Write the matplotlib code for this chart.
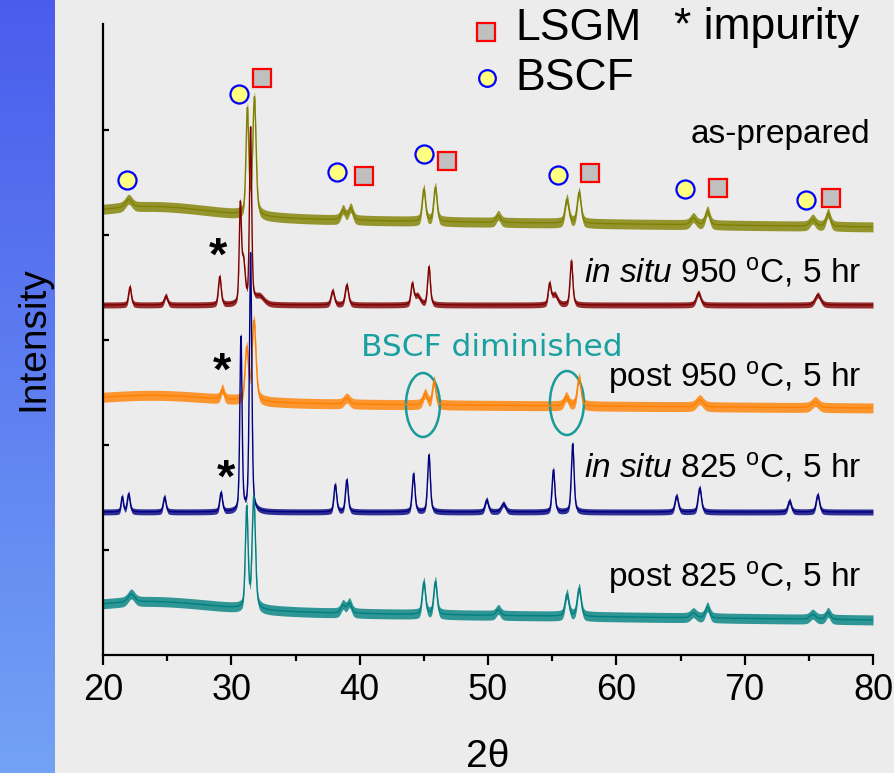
import numpy as np
import matplotlib.pyplot as plt
from matplotlib.patches import Ellipse

plt.rcParams['font.family'] = ['Liberation Sans', 'DejaVu Sans']
plt.rcParams['mathtext.fontset'] = 'custom'
plt.rcParams['mathtext.rm'] = 'Liberation Sans'
plt.rcParams['mathtext.it'] = 'Liberation Sans:italic'

# XRD patterns: peak position (2theta), height above background, fwhm
asprep_pos = [24.0, 22.0, 31.25, 31.8, 38.7, 39.3, 45.0, 45.9, 50.8, 56.15, 57.1, 66.0, 67.1, 75.3, 76.5]
asprep_h = [12, 8, 105, 117, 10, 12, 32, 34, 7, 24, 31, 7, 14, 7, 13]
asprep_w = [12, 0.6, 0.25, 0.3, 0.4, 0.4, 0.3, 0.3, 0.4, 0.35, 0.35, 0.5, 0.4, 0.5, 0.4]

is950_pos = [22.1, 24.9, 29.1, 30.7, 30.95, 31.5, 32.2, 37.9, 39.0, 44.1, 44.5, 45.4, 54.8, 55.2, 56.5, 66.4, 75.7]
is950_h = [18, 9, 28, 95, 40, 175, 8, 14, 20, 20, 9, 38, 20, 10, 44, 12, 10]
is950_w = [0.25, 0.3, 0.25, 0.2, 0.3, 0.2, 0.8, 0.3, 0.3, 0.25, 0.5, 0.25, 0.25, 0.5, 0.25, 0.4, 0.5]

p950_pos = [24.0, 29.3, 31.2, 31.77, 39.0, 45.1, 45.8, 56.1, 57.1, 66.5, 75.5]
p950_h = [8, 10, 52, 80, 6, 11, 24, 9, 28, 7, 6]
p950_w = [12, 0.3, 0.3, 0.35, 0.5, 0.4, 0.3, 0.4, 0.35, 0.6, 0.6]

is825_pos = [21.5, 22.0, 24.8, 29.2, 30.75, 31.5, 38.1, 39.0, 44.2, 45.4, 49.9, 51.2, 55.1, 56.6, 64.7, 66.5, 73.5, 75.7]
is825_h = [15, 18, 15, 19, 175, 258, 27, 32, 38, 57, 12, 8, 42, 68, 16, 24, 11, 17]
is825_w = [0.2, 0.25, 0.25, 0.25, 0.2, 0.22, 0.25, 0.25, 0.25, 0.25, 0.3, 0.4, 0.25, 0.25, 0.3, 0.3, 0.3, 0.3]

p825_pos = [24.0, 22.2, 31.2, 31.75, 38.7, 39.2, 45.0, 45.9, 50.8, 56.15, 57.1, 66.0, 67.1, 75.3, 76.5]
p825_h = [10, 8, 100, 112, 8, 10, 32, 33, 6, 22, 28, 5, 11, 5, 7]
p825_w = [12, 0.6, 0.25, 0.3, 0.4, 0.4, 0.3, 0.3, 0.4, 0.35, 0.35, 0.5, 0.4, 0.5, 0.4]

bg_left = [437, 350, 252, 143, 44]
bg_right = [428, 350, 247, 143, 35]

labels = ['as-prepared',
          r'$\it{in\ situ}$ 950 $^{\rm o}$C, 5 hr',
          r'post 950 $^{\rm o}$C, 5 hr',
          r'$\it{in\ situ}$ 825 $^{\rm o}$C, 5 hr',
          r'post 825 $^{\rm o}$C, 5 hr']
label_x = [79.75, 79.1, 79.1, 79.1, 79.1]
label_y = [520, 383, 277, 188, 77]
colors = ['#808000', '#800000', '#ff8000', '#000080', '#008080']
noise = [5, 3, 5, 3, 5]

# phase markers
bscf_x = [21.87, 30.6, 38.23, 45.01, 55.45, 65.35, 74.78]
bscf_y = [475, 561, 483, 501, 480, 466, 455]
lsgm_x = [32.39, 40.34, 46.81, 57.95, 67.92, 76.73]
lsgm_y = [577, 479, 494, 482, 467, 457]
impurity_x = [28.96, 29.27, 29.58]
impurity_y = [405, 290, 183]


def pattern(x, left, right, pos, h, w):
    y = left + (right - left) * (x - 20) / 60
    for p, a, fw in zip(pos, h, w):
        g = np.exp(-4 * np.log(2) * ((x - p) / fw) ** 2)
        l = 1 / (1 + (2 * (x - p) / fw) ** 2)
        y = y + a * (0.6 * g + 0.4 * l)
    return y


x = np.arange(20, 80.001, 0.02)
peaks = [(asprep_pos, asprep_h, asprep_w), (is950_pos, is950_h, is950_w),
         (p950_pos, p950_h, p950_w), (is825_pos, is825_h, is825_w),
         (p825_pos, p825_h, p825_w)]

fig = plt.figure(figsize=(8.94, 7.73), dpi=100, facecolor='#ececec')

# blue strip on the left
strip = fig.add_axes([0, 0, 55 / 894, 1])
grad = np.linspace(0, 1, 256)[:, None]
c0 = np.array([74, 92, 236]) / 255
c1 = np.array([114, 162, 245]) / 255
strip.imshow(c0 + grad[:, :, None] * (c1 - c0), aspect='auto', extent=[0, 1, 0, 1])
strip.axis('off')

ax = fig.add_axes([103 / 894, 118 / 773, 770 / 894, 631 / 773])
ax.set_facecolor('none')

for i in range(5):
    y = pattern(x, bg_left[i], bg_right[i], *peaks[i])
    ax.fill_between(x, y - noise[i], y + noise[i], color=colors[i], alpha=0.8, lw=0)
    ax.plot(x, y, color=colors[i], lw=1.0)
    ax.text(label_x[i], label_y[i], labels[i], fontsize=24, ha='right', va='center')

ax.plot(bscf_x, bscf_y, 'o', ms=13, mfc='#ffff80', mec='#0000ff', mew=1.6, clip_on=False)
ax.plot(lsgm_x, lsgm_y, 's', ms=13, mfc='#c0c0c0', mec='#ff0000', mew=1.6, clip_on=False)
for xi, yi in zip(impurity_x, impurity_y):
    ax.text(xi, yi - 8, '*', fontsize=34, ha='center', va='center', fontweight='bold')

# legend
ax.plot([49.84], [623], 's', ms=13, mfc='#c0c0c0', mec='#ff0000', mew=1.6, clip_on=False)
ax.plot([49.92], [577], 'o', ms=12, mfc='#ffff80', mec='#0000ff', mew=1.6, clip_on=False)
ax.text(52.1, 627, 'LSGM', fontsize=32, va='center')
ax.text(52.1, 577, 'BSCF', fontsize=32, va='center')
ax.text(64.5, 627, '* impurity', fontsize=32, va='center')

ax.text(50.3, 307, 'BSCF diminished', fontsize=22.5, color='#1aa0a0',
        ha='center', va='center', family=['DejaVu Sans'])
ax.add_patch(Ellipse((44.93, 250), 2.65, 64, fill=False, ec='#1a9a9a', lw=1.8))
ax.add_patch(Ellipse((56.15, 252), 2.65, 64, fill=False, ec='#1a9a9a', lw=1.8))

ax.set_xlim(20, 80)
ax.set_ylim(0, 631)
ax.spines['top'].set_visible(False)
ax.spines['right'].set_visible(False)
ax.spines['left'].set_linewidth(1.6)
ax.spines['bottom'].set_linewidth(1.6)
ax.set_xticks(np.arange(20, 81, 10))
ax.set_xticks(np.arange(25, 80, 10), minor=True)
ax.set_yticks([105, 210, 315, 420, 525])
ax.set_yticklabels([])
ax.tick_params(axis='x', which='major', direction='out', length=7, width=1.6, pad=6,
               labelsize=26)
ax.tick_params(axis='x', which='minor', direction='out', length=4, width=1.6)
ax.tick_params(axis='y', direction='in', length=4, width=1.6)
ax.set_xlabel('2θ', fontsize=28, labelpad=22)

fig.text(33 / 894, 1 - 339 / 773, 'Intensity', fontsize=28, rotation=90, ha='center', va='center')

fig.savefig('out.png', dpi=100, facecolor=fig.get_facecolor())
